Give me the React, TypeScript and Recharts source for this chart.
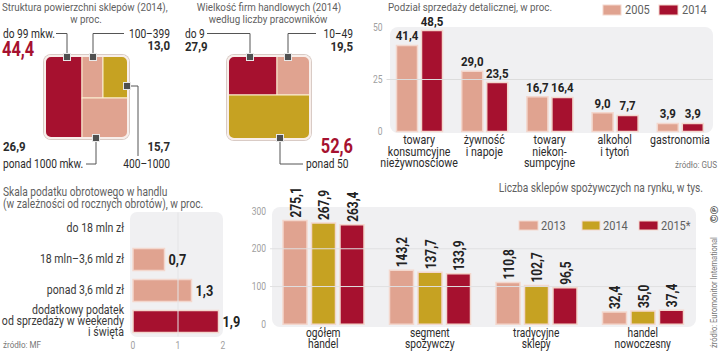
import React from 'react';
import { BarChart, Bar, XAxis, YAxis, LabelList, ReferenceLine, Cell, Treemap } from 'recharts';

// ---------------- data ----------------
const storeAreaNames = ['do 99 mkw.', '100–399', '400–1000', 'ponad 1000 mkw.'];
const storeAreaValues = [44.4, 13.0, 15.7, 26.9];

const firmSizeNames = ['do 9', '10–49', 'ponad 50'];
const firmSizeValues = [27.9, 19.5, 52.6];

const retailCategories = [
  'towary\nkonsumcyjne\nnieżywnosciowe',
  'żywność\ni napoje',
  'towary\nniekon-\nsumpcyjne',
  'alkohol\ni tytoń',
  'gastronomia',
];
const retailYears = ['2005', '2014'];
const retail2005 = [41.4, 29.0, 16.7, 9.0, 3.9];
const retail2014 = [48.5, 23.5, 16.4, 7.7, 3.9];
const retailTicks = [0, 25, 50];

const taxCategories = [
  'do 18 mln zł',
  '18 mln–3,6 mld zł',
  'ponad 3,6 mld zł',
  'dodatkowy podatek\nod sprzedaży w weekendy\ni święta',
];
const taxRates = [0, 0.7, 1.3, 1.9];
const taxTicks = [0, 1, 2];

const shopCategories = ['ogółem\nhandel', 'segment\nspożywczy', 'tradycyjne\nsklepy', 'handel\nnowoczesny'];
const shopYears = ['2013', '2014', '2015*'];
const shops2013 = [275.1, 143.2, 110.8, 32.4];
const shops2014 = [267.9, 137.7, 102.7, 35.0];
const shops2015 = [263.4, 133.9, 96.5, 37.4];
const shopTicks = [0, 100, 200, 300];

// ---------------- styles ----------------
const FONT = "Roboto, 'Liberation Sans', sans-serif";
const SX = 0.85;
const SALMON = '#E0A390';
const DARK = '#A6112F';
const GOLD = '#C6A222';
const HALO = '#F3D7CD';
const PANEL_BG = '#F0F0F2';
const TXT = '#2b2b2b';
const SUB = '#5f5f5f';
const AXIS = '#a0a0a0';

const storeAreaColors = [DARK, SALMON, GOLD, SALMON];
const firmSizeColors = [DARK, SALMON, GOLD];
const taxColors = [SALMON, SALMON, SALMON, DARK];
const retailColors = [SALMON, DARK];
const shopColors = [SALMON, GOLD, DARK];

const fmt = (v: number) => v.toFixed(1).replace('.', ',');

const retailData = retailCategories.map((cat, i) => ({ cat, y2005: retail2005[i], y2014: retail2014[i] }));
const taxData = taxCategories.map((cat, i) => ({ cat, rate: taxRates[i] }));
const shopData = shopCategories.map((cat, i) => ({ cat, y2013: shops2013[i], y2014: shops2014[i], y2015: shops2015[i] }));
const storeAreaData = storeAreaNames.map((name, i) => ({ name, value: storeAreaValues[i] }));
const firmSizeData = firmSizeNames.map((name, i) => ({ name, value: firmSizeValues[i] }));

const box = (p: any) => {
  const vb = p.viewBox && p.viewBox.width !== undefined ? p.viewBox : p;
  return { x: Number(vb.x), y: Number(vb.y), w: Number(vb.width), h: Number(vb.height) };
};

// condensed text (horizontal squeeze of a regular font)
const CT = (props: any) => {
  const { x, y, size = 12, anchor = 'start', weight = 'normal', color = TXT, sx = SX, rotate = 0, baseline, children } = props;
  const tf = `translate(${x} ${y})${rotate ? ` rotate(${rotate})` : ''} scale(${sx} 1)`;
  return (
    <text
      transform={tf}
      x={0}
      y={0}
      fontFamily={FONT}
      fontSize={size}
      textAnchor={anchor}
      fontWeight={weight}
      fill={color}
      dominantBaseline={baseline}
    >
      {children}
    </text>
  );
};

const makeCell = (names: string[], colors: string[]) => (props: any) => {
  const { x, y, width, height, depth, name } = props;
  if (!depth) return <g />;
  const idx = names.indexOf(name);
  return (
    <rect x={x} y={y} width={width} height={height} fill={colors[idx] ?? SALMON} stroke="#FBEFD2" strokeWidth={1} />
  );
};

const CenterTick = (first: number, lh: number, size: number) => (p: any) => {
  const lines = String(p.payload.value).split('\n');
  return (
    <g>
      {lines.map((l, i) => (
        <CT key={i} x={p.x} y={p.y + first + i * lh} size={size} anchor="middle" color={TXT}>
          {l}
        </CT>
      ))}
    </g>
  );
};

const RightTick = (p: any) => {
  const lines = String(p.payload.value).split('\n');
  const lh = 11;
  const start = -((lines.length - 1) * lh) / 2 + 4.2;
  return (
    <g>
      {lines.map((l, i) => (
        <CT key={i} x={p.x} y={p.y + start + i * lh} size={12} sx={0.88} anchor="end" color="#3a3a3a">
          {l}
        </CT>
      ))}
    </g>
  );
};

const LeftNumTick = (p: any) => (
  <CT x={p.x} y={p.y + 3.5} size={10} anchor="end" color={AXIS}>
    {p.payload.value}
  </CT>
);

const BottomNumTick = (p: any) => (
  <CT x={p.x} y={p.y + 12.5} size={10} anchor="middle" color={AXIS}>
    {p.payload.value}
  </CT>
);

const TopLabel = (p: any) => {
  const b = box(p);
  return (
    <CT x={b.x + b.w / 2} y={b.y - 5} anchor="middle" weight="bold" size={13.5} color="#222">
      {fmt(Number(p.value))}
    </CT>
  );
};

const RotLabel = (p: any) => {
  const b = box(p);
  return (
    <CT x={b.x + b.w / 2 + 1} y={b.y - 3} rotate={-90} baseline="central" weight="bold" size={14} color="#222">
      {fmt(Number(p.value))}
    </CT>
  );
};

const SideLabel = (p: any) => {
  const b = box(p);
  const v = Number(p.value);
  return (
    <CT x={b.x + b.w + 4} y={b.y + b.h / 2 + 5} weight="bold" size={v === 0 ? 14 : 15} color="#222">
      {v === 0 ? 'bez podatku' : fmt(v)}
    </CT>
  );
};

const Marker = ({ x, y }: { x: number; y: number }) => (
  <rect x={x - 3.5} y={y - 3.5} width={7} height={7} fill="#505050" stroke="#e8e8e8" strokeWidth={1} />
);

const abs = (left: number, top: number, extra: any = {}) => ({ position: 'absolute' as const, left, top, ...extra });

export default function App() {
  return (
    <div style={{ position: 'absolute', left: 0, top: 0, width: 720, height: 351, background: '#fff', overflow: 'hidden' }}>
      {/* panel backgrounds */}
      <div style={abs(390, 27, { width: 323, height: 106, borderRadius: 8, background: PANEL_BG })} />
      <div style={abs(130, 212, { width: 93, height: 125, borderRadius: 7, background: PANEL_BG })} />
      <div style={abs(272, 207, { width: 424, height: 120, borderRadius: 8, background: PANEL_BG })} />

      {/* treemap 1 */}
      <div style={abs(45, 56, { width: 83, height: 82, borderRadius: 6, overflow: 'hidden' })}>
        <Treemap
          width={83}
          height={82}
          data={storeAreaData}
          dataKey="value"
          aspectRatio={1}
          isAnimationActive={false}
          content={makeCell(storeAreaNames, storeAreaColors)}
        />
      </div>
      <div style={abs(44, 55, { width: 81, height: 80, borderRadius: 7, border: '2px solid #F8EEEA', boxShadow: '0 0 0 1px #D9CBC5' })} />

      {/* treemap 2 */}
      <div style={abs(228, 56, { width: 82, height: 83, borderRadius: 6, overflow: 'hidden' })}>
        <Treemap
          width={82}
          height={83}
          data={firmSizeData}
          dataKey="value"
          aspectRatio={1}
          isAnimationActive={false}
          content={makeCell(firmSizeNames, firmSizeColors)}
        />
      </div>
      <div style={abs(227, 55, { width: 80, height: 81, borderRadius: 7, border: '2px solid #F8EEEA', boxShadow: '0 0 0 1px #D9CBC5' })} />

      {/* retail bar chart */}
      <div style={abs(350, 0)}>
        <BarChart width={370} height={175} data={retailData} margin={{ top: 27.5, right: 7.5, left: 0, bottom: 0 }} barSize={21} barGap={4}>
          <ReferenceLine y={25} stroke="#DCDCDC" />
          <XAxis dataKey="cat" axisLine={false} tickLine={false} tickSize={0} tickMargin={0} height={43.5} interval={0} tick={CenterTick(12.5, 11.5, 12.5)} />
          <YAxis domain={[0, 50]} ticks={retailTicks} axisLine={false} tickLine={false} tickSize={2} tickMargin={2} width={36.5} tick={LeftNumTick} />
          <Bar dataKey="y2005" fill={retailColors[0]} stroke={HALO} strokeWidth={1.5} isAnimationActive={false}>
            <LabelList dataKey="y2005" content={TopLabel} />
          </Bar>
          <Bar dataKey="y2014" fill={retailColors[1]} stroke={HALO} strokeWidth={1.5} isAnimationActive={false}>
            <LabelList dataKey="y2014" content={TopLabel} />
          </Bar>
        </BarChart>
      </div>

      {/* tax bar chart */}
      <div style={abs(0, 175)}>
        <BarChart layout="vertical" width={240} height={176} data={taxData} margin={{ top: 37.5, right: 17, left: 0, bottom: 0 }} barSize={22}>
          <ReferenceLine x={1} stroke="#E4E4E6" />
          <XAxis type="number" domain={[0, 2]} ticks={taxTicks} axisLine={false} tickLine={false} tickSize={0} tickMargin={0} height={14.5} tick={BottomNumTick} />
          <YAxis type="category" dataKey="cat" width={133} axisLine={false} tickLine={false} tickSize={0} tickMargin={9} interval={0} tick={RightTick} />
          <Bar dataKey="rate" stroke={HALO} strokeWidth={1.5} isAnimationActive={false}>
            {taxData.map((d, i) => (
              <Cell key={d.cat} fill={taxColors[i]} />
            ))}
            <LabelList dataKey="rate" content={SideLabel} />
          </Bar>
        </BarChart>
      </div>

      {/* shops bar chart */}
      <div style={abs(240, 175)}>
        <BarChart width={480} height={176} data={shopData} margin={{ top: 36, right: 24, left: 0, bottom: 0 }} barSize={24} barGap={4.5}>
          <ReferenceLine y={100} stroke="#E0E0E2" />
          <ReferenceLine y={200} stroke="#E0E0E2" />
          <XAxis dataKey="cat" axisLine={false} tickLine={false} tickSize={0} tickMargin={0} height={26.7} interval={0} tick={CenterTick(12.8, 11.3, 12)} />
          <YAxis domain={[0, 300]} ticks={shopTicks} axisLine={false} tickLine={false} tickSize={2} tickMargin={2} width={30} tick={LeftNumTick} />
          <Bar dataKey="y2013" fill={shopColors[0]} stroke={HALO} strokeWidth={1.5} isAnimationActive={false}>
            <LabelList dataKey="y2013" content={RotLabel} />
          </Bar>
          <Bar dataKey="y2014" fill={shopColors[1]} stroke={HALO} strokeWidth={1.5} isAnimationActive={false}>
            <LabelList dataKey="y2014" content={RotLabel} />
          </Bar>
          <Bar dataKey="y2015" fill={shopColors[2]} stroke={HALO} strokeWidth={1.5} isAnimationActive={false}>
            <LabelList dataKey="y2015" content={RotLabel} />
          </Bar>
        </BarChart>
      </div>

      {/* annotation overlay */}
      <svg width={720} height={351} style={abs(0, 0, { pointerEvents: 'none' })}>
        {/* panel 1 */}
        <CT x={2} y={11} size={11.5} color={SUB}>Struktura powierzchni sklepów (2014),</CT>
        <CT x={86} y={23} size={11.5} color={SUB} anchor="middle">w proc.</CT>
        <CT x={3} y={37.5} size={12}>{storeAreaNames[0]}</CT>
        <CT x={2} y={56} size={21} weight="bold" color={DARK} sx={0.78}>{fmt(storeAreaValues[0])}</CT>
        <CT x={170} y={37.5} size={12} anchor="end">{storeAreaNames[1]}</CT>
        <CT x={170} y={50} size={13.5} weight="bold" anchor="end">{fmt(storeAreaValues[1])}</CT>
        <CT x={3} y={151} size={13.5} weight="bold">{fmt(storeAreaValues[3])}</CT>
        <CT x={3} y={168} size={12}>{storeAreaNames[3]}</CT>
        <CT x={170} y={151} size={13.5} weight="bold" anchor="end">{fmt(storeAreaValues[2])}</CT>
        <CT x={170} y={168} size={12} anchor="end">{storeAreaNames[2]}</CT>
        <g fill="none" stroke="#555" strokeWidth={1}>
          <polyline points="56,33.5 67,33.5 67,57" />
          <polyline points="124,33.5 93,33.5 93,57" />
          <polyline points="127,86 138,86 138,156" />
          <polyline points="96,138 96,164 86,164" />
        </g>
        <Marker x={67} y={57} />
        <Marker x={93} y={57} />
        <Marker x={127} y={86} />
        <Marker x={96} y={138} />

        {/* panel 2 */}
        <CT x={269} y={11} size={11.5} color={SUB} anchor="middle">Wielkość firm handlowych (2014)</CT>
        <CT x={268} y={23} size={11.5} color={SUB} anchor="middle">według liczby pracowników</CT>
        <CT x={185} y={37.5} size={12}>{firmSizeNames[0]}</CT>
        <CT x={185} y={51} size={13.5} weight="bold">{fmt(firmSizeValues[0])}</CT>
        <CT x={353} y={37.5} size={12} anchor="end">{firmSizeNames[1]}</CT>
        <CT x={353} y={51} size={13.5} weight="bold" anchor="end">{fmt(firmSizeValues[1])}</CT>
        <CT x={353} y={153} size={21} weight="bold" anchor="end" color={DARK} sx={0.78}>{fmt(firmSizeValues[2])}</CT>
        <CT x={306} y={168} size={12}>{firmSizeNames[2]}</CT>
        <g fill="none" stroke="#555" strokeWidth={1}>
          <polyline points="207,33.5 250,33.5 250,57" />
          <polyline points="316,33.5 288,33.5 288,57" />
          <polyline points="280,138 280,164 303,164" />
        </g>
        <Marker x={250} y={57} />
        <Marker x={288} y={57} />
        <Marker x={280} y={138} />

        {/* panel 3 */}
        <CT x={388} y={11} size={11.5} color={SUB}>Podział sprzedaży detalicznej, w proc.</CT>
        <rect x={603} y={5} width={18} height={10} fill={retailColors[0]} stroke={HALO} />
        <CT x={625} y={13.5} size={13} color={SUB}>{retailYears[0]}</CT>
        <rect x={659} y={5} width={19} height={10} fill={retailColors[1]} stroke={HALO} />
        <CT x={682} y={13.5} size={13} color={SUB}>{retailYears[1]}</CT>
        <CT x={717} y={168} size={9.5} color="#777" anchor="end">źródło: GUS</CT>

        {/* panel 4 */}
        <CT x={3} y={195.5} size={12} color={SUB}>Skala podatku obrotowego w handlu</CT>
        <CT x={3} y={207.5} size={12} color={SUB}>(w zależności od rocznych obrotów), w proc.</CT>
        <CT x={3} y={348} size={9.5} color="#777">źródło: MF</CT>

        {/* panel 5 */}
        <CT x={703} y={191.5} size={12} color={SUB} anchor="end">Liczba sklepów spożywczych na rynku, w tys.</CT>
        <rect x={519} y={221} width={19} height={9} fill={shopColors[0]} stroke={HALO} />
        <CT x={541} y={230} size={13} color={SUB}>{shopYears[0]}</CT>
        <rect x={582} y={221} width={18} height={9} fill={shopColors[1]} stroke={HALO} />
        <CT x={603} y={230} size={13} color={SUB}>{shopYears[1]}</CT>
        <rect x={639} y={221} width={19} height={9} fill={shopColors[2]} stroke={HALO} />
        <CT x={661} y={230} size={13} color={SUB}>{shopYears[2]}</CT>
        <CT x={717} y={348} rotate={-90} size={9.5} sx={0.8} color="#777">źródło: Euromonitor International</CT>
        <CT x={718} y={223} rotate={-90} size={11} sx={1} color="#444" weight="bold">©℗</CT>
      </svg>
    </div>
  );
}
